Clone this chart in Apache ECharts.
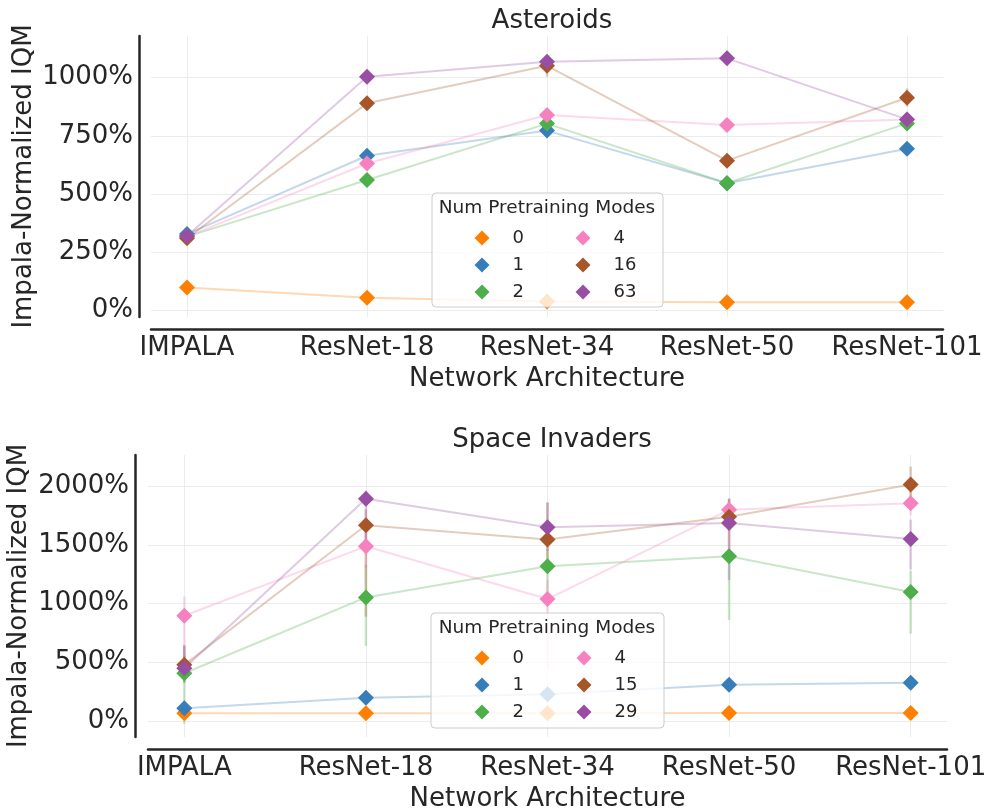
<!DOCTYPE html>
<html>
<head>
<meta charset="utf-8">
<script src="https://cdn.jsdelivr.net/npm/echarts@6/dist/echarts.min.js"></script>
<style>html,body{margin:0;padding:0;background:#fff}#c{width:992px;height:809px}</style>
</head>
<body>
<div id="c"></div>
<script>
// ---------- data ----------
const categories = ['IMPALA', 'ResNet-18', 'ResNet-34', 'ResNet-50', 'ResNet-101'];
const xTicks = [0, 1, 2, 3, 4];

// Asteroids (Impala-normalized IQM, %)
const astModes = ['0', '1', '2', '4', '16', '63'];
const ast0  = [100, 56, 39, 36, 36];
const ast1  = [329, 665, 773, 547, 695];
const ast2  = [318, 561, 803, 547, 804];
const ast4  = [318, 632, 840, 797, 821];
const ast16 = [311, 890, 1051, 644, 914];
const ast63 = [321, 1004, 1069, 1083, 821];
// error bars (low / high)
const ast0Lo  = [90, 48, 32, 30, 30];     const ast0Hi  = [110, 64, 46, 42, 42];
const ast1Lo  = [315, 650, 755, 535, 680]; const ast1Hi  = [343, 680, 790, 560, 710];
const ast2Lo  = [305, 545, 785, 535, 790]; const ast2Hi  = [330, 577, 820, 560, 818];
const ast4Lo  = [305, 615, 822, 780, 805]; const ast4Hi  = [330, 650, 858, 815, 837];
const ast16Lo = [298, 870, 1004, 625, 876]; const ast16Hi = [324, 910, 1095, 663, 954];
const ast63Lo = [308, 985, 1050, 1065, 805]; const ast63Hi = [334, 1024, 1088, 1101, 837];
const astTicks = [0, 250, 500, 750, 1000];

// Space Invaders (Impala-normalized IQM, %)
const siModes = ['0', '1', '2', '4', '15', '29'];
const si0  = [68, 68, 68, 70, 70];
const si1  = [111, 201, 230, 310, 328];
const si2  = [409, 1053, 1317, 1402, 1099];
const si4  = [897, 1487, 1039, 1797, 1854];
const si15 = [480, 1666, 1546, 1738, 2013];
const si29 = [451, 1892, 1650, 1686, 1550];
const si0Lo  = [55, 55, 55, 57, 57];       const si0Hi  = [82, 82, 82, 84, 84];
const si1Lo  = [60, 180, 205, 285, 300];   const si1Hi  = [170, 222, 255, 335, 356];
const si2Lo  = [-20, 640, 1090, 860, 745]; const si2Hi  = [560, 1330, 1460, 1460, 1280];
const si4Lo  = [520, 1300, 450, 1650, 1750]; const si4Hi  = [1060, 1600, 1200, 1900, 1950];
const si15Lo = [330, 890, 1350, 1400, 1860]; const si15Hi = [640, 1800, 1860, 1890, 2165];
const si29Lo = [330, 1480, 1450, 1200, 1290]; const si29Hi = [650, 1960, 1860, 1890, 1715];
const siTicks = [0, 500, 1000, 1500, 2000];

const colors = ['#ff7f00', '#377eb8', '#4daf4a', '#f781bf', '#a65628', '#984ea3'];

// ---------- build ----------
const FONT = 'DejaVu Sans';
const TXT = '#262626';

function hexA(hex, a) {
  const r = parseInt(hex.slice(1, 3), 16), g = parseInt(hex.slice(3, 5), 16), b = parseInt(hex.slice(5, 7), 16);
  return 'rgba(' + r + ',' + g + ',' + b + ',' + a + ')';
}

function lineSeries(name, vals, color, ax) {
  return {
    type: 'line', name: name, xAxisIndex: ax, yAxisIndex: ax,
    data: vals.map((v, i) => [xTicks[i], v]),
    symbol: 'diamond', symbolSize: 16, showSymbol: true,
    itemStyle: { color: color, borderWidth: 0 },
    lineStyle: { color: hexA(color, 0.3), width: 2 },
    emphasis: { disabled: true }, silent: true, z: 3
  };
}
function errSeries(id, lo, hi, color, ax) {
  return {
    type: 'custom', id: id, xAxisIndex: ax, yAxisIndex: ax, silent: true, z: 2,
    data: lo.map((l, i) => [xTicks[i], l, hi[i]]),
    encode: { x: 0, y: [1, 2] },
    renderItem: function (params, api) {
      const p1 = api.coord([api.value(0), api.value(1)]);
      const p2 = api.coord([api.value(0), api.value(2)]);
      return { type: 'line', shape: { x1: p1[0], y1: p1[1], x2: p2[0], y2: p2[1] },
               style: { stroke: hexA(color, 0.3), lineWidth: 2.5 } };
    }
  };
}

const astVals = [ast0, ast1, ast2, ast4, ast16, ast63];
const astLo = [ast0Lo, ast1Lo, ast2Lo, ast4Lo, ast16Lo, ast63Lo];
const astHi = [ast0Hi, ast1Hi, ast2Hi, ast4Hi, ast16Hi, ast63Hi];
const siVals = [si0, si1, si2, si4, si15, si29];
const siLo = [si0Lo, si1Lo, si2Lo, si4Lo, si15Lo, si29Lo];
const siHi = [si0Hi, si1Hi, si2Hi, si4Hi, si15Hi, si29Hi];

const series = [];
astModes.forEach((m, k) => series.push(errSeries('ae' + k, astLo[k], astHi[k], colors[k], 0)));
astModes.forEach((m, k) => series.push(lineSeries(m, astVals[k], colors[k], 0)));
siModes.forEach((m, k) => series.push(errSeries('se' + k, siLo[k], siHi[k], colors[k], 1)));
siModes.forEach((m, k) => series.push(lineSeries(m, siVals[k], colors[k], 1)));

function xAxis(gi) {
  return {
    gridIndex: gi, type: 'value', min: -0.2, max: 4.2, offset: 12,
    axisLine: { show: true, onZero: false, lineStyle: { color: TXT, width: 2.5 } },
    axisTick: { show: false, customValues: xTicks },
    axisLabel: { customValues: xTicks, formatter: v => categories[Math.round(v)],
                 fontSize: 26, color: TXT, fontFamily: FONT, margin: 6 },
    splitLine: { show: true, lineStyle: { color: '#ececec', width: 1 } },
    name: 'Network Architecture', nameLocation: 'middle', nameGap: 37, nameMoveOverlap: false,
    nameTextStyle: { fontSize: 26, color: TXT, fontFamily: FONT }
  };
}
function yAxis(gi, min, max, ticks, gap, off) {
  return {
    gridIndex: gi, type: 'value', min: min, max: max, offset: off,
    axisLine: { show: true, onZero: false, lineStyle: { color: TXT, width: 2.5 } },
    axisTick: { show: false, customValues: ticks },
    axisLabel: { customValues: ticks, formatter: v => String(Math.round(v)) + '%',
                 fontSize: 26, color: TXT, fontFamily: FONT, margin: 6 },
    splitLine: { show: true, lineStyle: { color: '#ececec', width: 1 } },
    name: 'Impala-Normalized IQM', nameLocation: 'middle', nameGap: gap, nameRotate: 90,
    nameMoveOverlap: false,
    nameTextStyle: { fontSize: 26, color: TXT, fontFamily: FONT }
  };
}

function legend(names, left, top) {
  return {
    data: names, orient: 'vertical', left: left, top: top, icon: 'diamond',
    itemWidth: 15, itemHeight: 15, itemGap: 9, z: 20, selectedMode: false,
    textStyle: { fontSize: 18, lineHeight: 18, color: TXT, fontFamily: FONT, padding: [0, 0, 0, 18] }
  };
}

const option = {
  animation: false,
  backgroundColor: '#ffffff',
  title: [
    { text: 'Asteroids', left: 547, top: 3, textAlign: 'center',
      textStyle: { fontSize: 26, fontWeight: 'normal', color: TXT, fontFamily: FONT } },
    { text: 'Space Invaders', left: 547, top: 422, textAlign: 'center',
      textStyle: { fontSize: 26, fontWeight: 'normal', color: TXT, fontFamily: FONT } }
  ],
  grid: [
    { left: 151, right: 49, top: 36, height: 281, outerBoundsMode: 'none' },
    { left: 148, right: 45, top: 455, height: 282, outerBoundsMode: 'none' }
  ],
  xAxis: [xAxis(0), xAxis(1)],
  yAxis: [yAxis(0, -27, 1179, astTicks, 102, 12), yAxis(1, -133, 2263, siTicks, 103, 13)],
  legend: [
    legend(astModes.slice(0, 3), 469.5, 224),
    legend(astModes.slice(3), 570.5, 224),
    legend(siModes.slice(0, 3), 469.5, 644),
    legend(siModes.slice(3), 571.5, 644)
  ],
  graphic: [
    { type: 'rect', z: 10, silent: true, shape: { x: 432, y: 193, width: 231, height: 114, r: 4 },
      style: { fill: 'rgba(255,255,255,0.8)', stroke: '#cccccc', lineWidth: 1 } },
    { type: 'text', z: 11, silent: true, x: 547, y: 208,
      style: { text: 'Num Pretraining Modes', fontSize: 18.5, fontFamily: FONT, fill: TXT, align: 'center', verticalAlign: 'middle' } },
    { type: 'rect', z: 10, silent: true, shape: { x: 431, y: 613, width: 233, height: 115, r: 4 },
      style: { fill: 'rgba(255,255,255,0.8)', stroke: '#cccccc', lineWidth: 1 } },
    { type: 'text', z: 11, silent: true, x: 547, y: 628,
      style: { text: 'Num Pretraining Modes', fontSize: 18.5, fontFamily: FONT, fill: TXT, align: 'center', verticalAlign: 'middle' } }
  ],
  series: series
};

const chart = echarts.init(document.getElementById('c'), null, { renderer: 'canvas' });
chart.setOption(option);
</script>
</body>
</html>
